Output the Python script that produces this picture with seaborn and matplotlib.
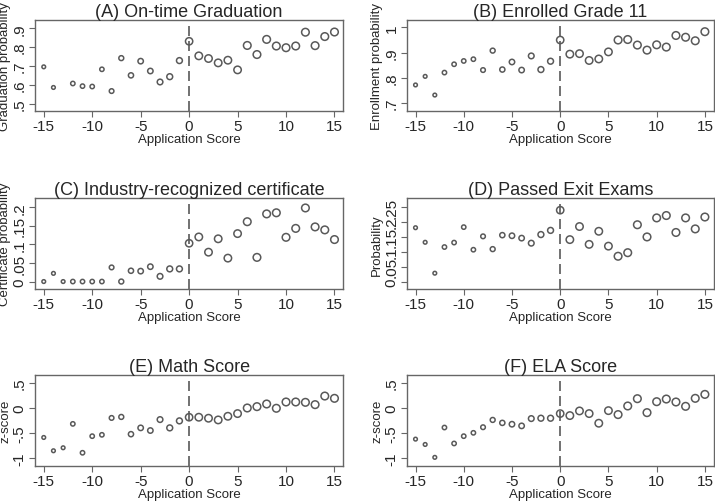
import numpy as np
import pandas as pd
import seaborn as sns
import matplotlib.pyplot as plt

# Application score bins (-15 .. 15)
score = list(range(-15, 16))

# Approximate observations per score bin (drives marker size)
counts = [15, 15, 15, 25, 25, 25, 25, 30, 35, 40, 45, 45, 50, 55, 55,
          90, 95, 95, 95, 95, 95, 100, 100, 100, 100, 100, 100, 100, 100, 100, 100]

# (A) On-time graduation (no point at -13)
grad = [0.696, 0.587, np.nan, 0.608, 0.594, 0.592, 0.683, 0.568, 0.742, 0.651,
        0.726, 0.674, 0.616, 0.644, 0.729, 0.831, 0.754, 0.740, 0.717, 0.731,
        0.680, 0.809, 0.761, 0.841, 0.806, 0.797, 0.806, 0.879, 0.808, 0.856, 0.880]
# (B) Enrolled grade 11
enroll = [0.772, 0.806, 0.732, 0.821, 0.854, 0.867, 0.874, 0.831, 0.908, 0.833,
          0.863, 0.831, 0.887, 0.833, 0.866, 0.950, 0.894, 0.896, 0.869, 0.875,
          0.903, 0.950, 0.952, 0.930, 0.910, 0.931, 0.922, 0.968, 0.961, 0.947, 0.983]
# (C) Industry-recognized certificate
cert = [0.0, 0.022, 0.0, 0.0, 0.0, 0.0, 0.0, 0.038, 0.0, 0.029,
        0.028, 0.040, 0.014, 0.034, 0.034, 0.103, 0.120, 0.079, 0.115, 0.063,
        0.129, 0.161, 0.065, 0.182, 0.185, 0.119, 0.143, 0.198, 0.147, 0.139, 0.113]
# (D) Passed exit exams
exitx = [0.181, 0.132, 0.028, 0.116, 0.131, 0.183, 0.107, 0.152, 0.109, 0.156,
         0.154, 0.146, 0.129, 0.158, 0.172, 0.240, 0.141, 0.185, 0.125, 0.169,
         0.119, 0.085, 0.097, 0.191, 0.150, 0.214, 0.222, 0.165, 0.214, 0.177, 0.217]
# (E) Math z-score
math = [-0.588, -0.854, -0.794, -0.316, -0.894, -0.562, -0.535, -0.197, -0.177, -0.522,
        -0.396, -0.449, -0.230, -0.396, -0.256, -0.183, -0.183, -0.203, -0.237, -0.164,
        -0.110, 0.002, 0.029, 0.082, -0.004, 0.122, 0.122, 0.115, 0.069, 0.241, 0.195]
# (F) ELA z-score
ela = [-0.621, -0.728, -0.986, -0.389, -0.708, -0.562, -0.495, -0.383, -0.237, -0.296,
       -0.323, -0.356, -0.210, -0.203, -0.203, -0.110, -0.150, -0.057, -0.110, -0.303,
       -0.051, -0.130, 0.042, 0.188, -0.091, 0.128, 0.181, 0.122, 0.035, 0.195, 0.274]

panels = [
    ("(A) On-time Graduation", grad, "Graduation probability",
     [0.5, 0.6, 0.7, 0.8, 0.9], [".5", ".6", ".7", ".8", ".9"], (0.463, 0.943)),
    ("(B) Enrolled Grade 11", enroll, "Enrollment probability",
     [0.7, 0.8, 0.9, 1.0], [".7", ".8", ".9", "1"], (0.669, 1.029)),
    ("(C) Industry-recognized certificate", cert, "Certificate probability",
     [0, 0.05, 0.1, 0.15, 0.2], ["0", ".05", ".1", ".15", ".2"], (-0.0205, 0.224)),
    ("(D) Passed Exit Exams", exitx, "Probability",
     [0, 0.05, 0.1, 0.15, 0.2, 0.25], ["0", ".05", ".1", ".15", ".2", ".25"], (-0.0257, 0.280)),
    ("(E) Math Score", math, "z-score",
     [-1, -0.5, 0, 0.5], ["-1", "-.5", "0", ".5"], (-1.159, 0.659)),
    ("(F) ELA Score", ela, "z-score",
     [-1, -0.5, 0, 0.5], ["-1", "-.5", "0", ".5"], (-1.159, 0.659)),
]

sns.set_style("white")
plt.rcParams['font.family'] = ['Liberation Sans', 'DejaVu Sans']

fig = plt.figure(figsize=(7.15, 5.02), dpi=100)

# axes boxes in figure fractions
lefts = [0.049, 0.569]
widths = [0.431, 0.429]
bottoms = [0.777, 0.422, 0.0697]
height = 0.181

frame_col = '0.4'

for i, (title, vals, ylab, yt, ytl, ylim) in enumerate(panels):
    ax = fig.add_axes([lefts[i % 2], bottoms[i // 2], widths[i % 2], height])
    df = pd.DataFrame({'score': score, 'value': vals, 'n': counts}).dropna()
    sns.scatterplot(data=df, x='score', y='value', size='n', sizes=(7, 30),
                    size_norm=(15, 100), marker='o', facecolor='none',
                    edgecolor='0.35', linewidth=1.1, legend=False, ax=ax)
    ax.axvline(0, color='0.35', linestyle=(0, (6, 3)), linewidth=1.2)
    ax.set_xlim(-15.9, 15.9)
    ax.set_ylim(*ylim)
    ax.set_xticks([-15, -10, -5, 0, 5, 10, 15])
    ax.set_xticklabels(['-15', '-10', '-5', '0', '5', '10', '15'], fontsize=11)
    ax.set_yticks(yt)
    ax.set_yticklabels(ytl, fontsize=11, rotation=90, va='center')
    ax.tick_params(axis='both', direction='out', length=4, width=0.8, color=frame_col,
                   left=True, bottom=True, pad=2)
    for sp in ax.spines.values():
        sp.set_color(frame_col)
        sp.set_linewidth(1.0)
    ax.set_title(title, fontsize=13, pad=3)
    ax.set_xlabel('Application Score', fontsize=9.5, labelpad=0)
    ax.set_ylabel(ylab, fontsize=9.5, labelpad=1)

fig.savefig('out.png', dpi=100)
